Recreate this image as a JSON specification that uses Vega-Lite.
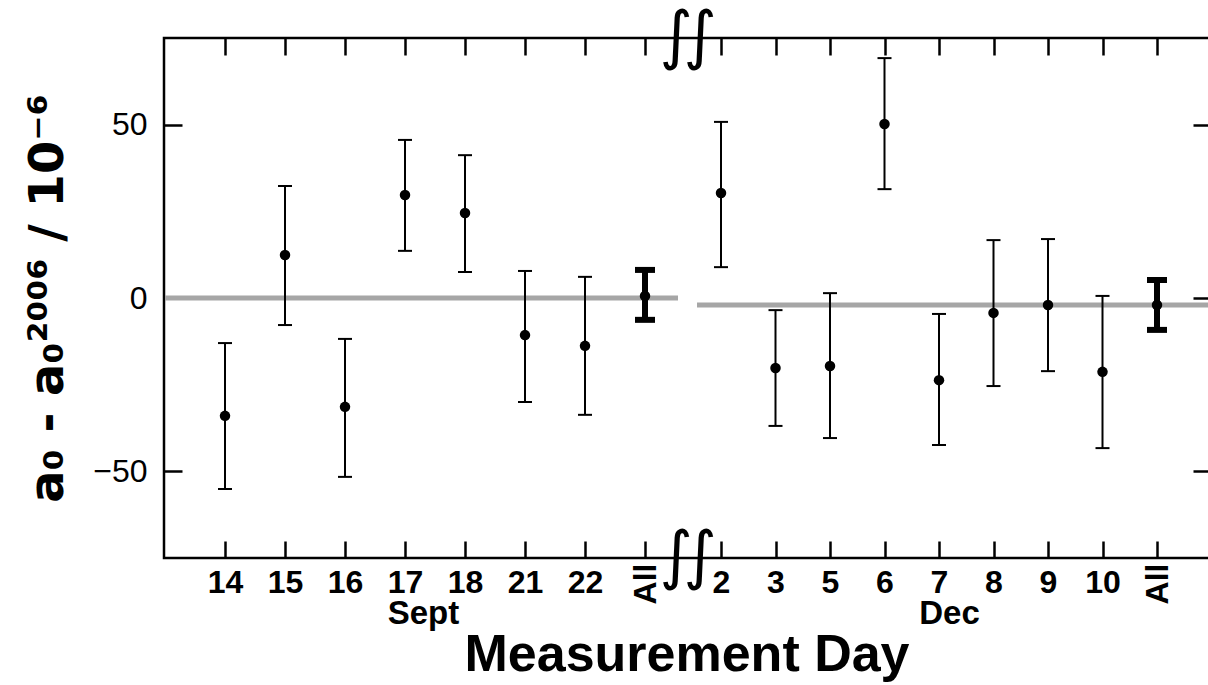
{
  "$schema": "https://vega.github.io/schema/vega-lite/v6.json",
  "width": 1046,
  "height": 520,
  "autosize": {"type": "none"},
  "padding": {"left": 164, "top": 38, "right": -2, "bottom": 127},
  "background": "white",
  "config": {
    "font": "Liberation Sans",
    "view": {"stroke": "black", "strokeWidth": 2.5},
    "axis": {"domain": false, "grid": false, "tickColor": "black", "labelColor": "black", "titleColor": "black", "tickWidth": 2.5}
  },
  "title": {"text": "Measurement Day", "orient": "bottom", "anchor": "middle", "frame": "group", "font": "Liberation Sans", "fontSize": 52, "fontWeight": "bold", "color": "black", "offset": 0},
  "datasets": {
    "sept": [
      {"slot": 1, "day": "14", "v": -34.0, "lo": -55.1, "hi": -13.0},
      {"slot": 2, "day": "15", "v": 12.4, "lo": -7.8, "hi": 32.3},
      {"slot": 3, "day": "16", "v": -31.4, "lo": -51.6, "hi": -11.8},
      {"slot": 4, "day": "17", "v": 29.7, "lo": 13.6, "hi": 45.6},
      {"slot": 5, "day": "18", "v": 24.5, "lo": 7.5, "hi": 41.2},
      {"slot": 6, "day": "21", "v": -10.7, "lo": -30.0, "hi": 7.8},
      {"slot": 7, "day": "22", "v": -13.8, "lo": -33.7, "hi": 6.1},
      {"slot": 8, "day": "All", "v": 0.6, "lo": -6.3, "hi": 8.1}
    ],
    "dec": [
      {"slot": 1, "day": "2", "v": 30.3, "lo": 8.9, "hi": 50.8},
      {"slot": 2, "day": "3", "v": -20.2, "lo": -36.9, "hi": -3.5},
      {"slot": 3, "day": "5", "v": -19.6, "lo": -40.4, "hi": 1.4},
      {"slot": 4, "day": "6", "v": 50.2, "lo": 31.4, "hi": 69.2},
      {"slot": 5, "day": "7", "v": -23.7, "lo": -42.4, "hi": -4.6},
      {"slot": 6, "day": "8", "v": -4.3, "lo": -25.4, "hi": 16.7},
      {"slot": 7, "day": "9", "v": -2.0, "lo": -21.1, "hi": 17.0},
      {"slot": 8, "day": "10", "v": -21.3, "lo": -43.3, "hi": 0.6},
      {"slot": 9, "day": "All", "v": -2.0, "lo": -9.2, "hi": 5.2}
    ],
    "means": [
      {"period": "Sept", "mean": 0},
      {"period": "Dec", "mean": -2}
    ],
    "breaks": [
      {"edge": 75},
      {"edge": -75}
    ]
  },
  "resolve": {"scale": {"x": "independent", "y": "independent"}, "axis": {"x": "independent", "y": "independent"}},
  "layer": [
    {
      "data": {"name": "means"},
      "transform": [{"filter": "datum.period == 'Sept'"}],
      "mark": {"type": "rule", "color": "#a6a6a6", "strokeWidth": 5},
      "encoding": {
        "x": {"datum": 0, "type": "quantitative", "scale": {"domain": [1, 8], "range": [61, 481], "nice": false, "zero": false}, "axis": null},
        "x2": {"datum": 8.55},
        "y": {"field": "mean", "type": "quantitative", "scale": {"domain": [-75, 75], "nice": false, "zero": false}, "axis": null}
      }
    },
    {
      "data": {"name": "means"},
      "transform": [{"filter": "datum.period == 'Dec'"}],
      "mark": {"type": "rule", "color": "#a6a6a6", "strokeWidth": 5},
      "encoding": {
        "x": {"datum": 0.56, "type": "quantitative", "scale": {"domain": [1, 9], "range": [557, 993], "nice": false, "zero": false}, "axis": null},
        "x2": {"datum": 9.97},
        "y": {"field": "mean", "type": "quantitative", "scale": {"domain": [-75, 75], "nice": false, "zero": false}, "axis": null}
      }
    },
    {
      "data": {"name": "sept"},
      "mark": {"type": "point", "opacity": 0},
      "encoding": {
        "x": {"field": "slot", "type": "quantitative", "scale": {"domain": [1, 8], "range": [61, 481], "nice": false, "zero": false}, "axis": null},
        "y": {"field": "v", "type": "quantitative", "scale": {"domain": [-75, 75], "nice": false, "zero": false},
          "axis": {"orient": "left", "values": [-50, 0, 50], "tickSize": -18, "labelFontSize": 32, "labelFontWeight": "normal", "labelPadding": 35,
            "title": "a₀ - a₀²⁰⁰⁶ / 10⁻⁶", "titleFont": "DejaVu Sans", "titleFontSize": 48, "titleFontWeight": "bold", "titlePadding": 20}}
      }
    },
    {
      "data": {"name": "sept"},
      "encoding": {
        "x": {"field": "slot", "type": "quantitative", "scale": {"domain": [1, 8], "range": [61, 481], "nice": false, "zero": false},
          "axis": {"orient": "bottom", "values": [1, 2, 3, 4, 5, 6, 7, 8],
            "labelExpr": "datum.value == 8 ? '' : ['14','15','16','17','18','21','22'][datum.value-1]",
            "tickSize": -17, "labelFontSize": 32, "labelFontWeight": "bold", "labelPadding": 26, "labelBaseline": "top",
            "labelFlush": false, "labelOverlap": false, "labelBound": false,
            "title": "Sept", "titleFontSize": 33, "titleFontWeight": "bold", "titleX": 259, "titleY": 65, "titleBaseline": "alphabetic", "titleAlign": "center"}
        }
      },
      "layer": [
        {
          "transform": [{"filter": "datum.day != 'All'"}],
          "mark": {"type": "rule", "color": "black", "strokeWidth": 2},
          "encoding": {
            "y": {"field": "lo", "type": "quantitative", "scale": {"domain": [-75, 75], "nice": false, "zero": false}, "axis": null},
            "y2": {"field": "hi"}
          }
        },
        {
          "transform": [{"filter": "datum.day != 'All'"}],
          "mark": {"type": "tick", "orient": "horizontal", "color": "black", "size": 14, "thickness": 2, "opacity": 1},
          "encoding": {"y": {"field": "lo", "type": "quantitative", "axis": null}}
        },
        {
          "transform": [{"filter": "datum.day != 'All'"}],
          "mark": {"type": "tick", "orient": "horizontal", "color": "black", "size": 14, "thickness": 2, "opacity": 1},
          "encoding": {"y": {"field": "hi", "type": "quantitative", "axis": null}}
        },
        {
          "transform": [{"filter": "datum.day == 'All'"}],
          "mark": {"type": "rule", "color": "black", "strokeWidth": 6},
          "encoding": {"y": {"field": "lo", "type": "quantitative", "axis": null}, "y2": {"field": "hi"}}
        },
        {
          "transform": [{"filter": "datum.day == 'All'"}],
          "mark": {"type": "tick", "orient": "horizontal", "color": "black", "size": 20, "thickness": 6, "opacity": 1},
          "encoding": {"y": {"field": "lo", "type": "quantitative", "axis": null}}
        },
        {
          "transform": [{"filter": "datum.day == 'All'"}],
          "mark": {"type": "tick", "orient": "horizontal", "color": "black", "size": 20, "thickness": 6, "opacity": 1},
          "encoding": {"y": {"field": "hi", "type": "quantitative", "axis": null}}
        },
        {
          "mark": {"type": "circle", "size": 110, "color": "black", "opacity": 1},
          "encoding": {"y": {"field": "v", "type": "quantitative", "axis": null}}
        }
      ]
    },
    {
      "data": {"name": "sept"},
      "mark": {"type": "point", "opacity": 0},
      "encoding": {
        "x": {"field": "slot", "type": "quantitative", "scale": {"domain": [1, 8], "range": [61, 481], "nice": false, "zero": false},
          "axis": {"orient": "top", "values": [1, 2, 3, 4, 5, 6, 7, 8], "tickSize": -17, "labels": false, "title": null}},
        "y": {"field": "v", "type": "quantitative", "scale": {"domain": [-75, 75], "nice": false, "zero": false},
          "axis": {"orient": "right", "values": [-50, 0, 50], "tickSize": -17, "labels": false, "title": null}}
      }
    },
    {
      "data": {"name": "sept"},
      "mark": {"type": "point", "opacity": 0},
      "encoding": {
        "x": {"field": "slot", "type": "quantitative", "scale": {"domain": [1, 8], "range": [61, 481], "nice": false, "zero": false},
          "axis": {"orient": "bottom", "values": [8], "labelExpr": "'All'", "ticks": false, "labelAngle": 270, "labelAlign": "right", "labelBaseline": "middle",
            "labelPadding": 5, "labelFontSize": 32, "labelFontWeight": "bold", "labelFlush": false, "labelBound": false, "title": null}},
        "y": {"field": "v", "type": "quantitative", "scale": {"domain": [-75, 75], "nice": false, "zero": false}, "axis": null}
      }
    },
    {
      "data": {"name": "dec"},
      "encoding": {
        "x": {"field": "slot", "type": "quantitative", "scale": {"domain": [1, 9], "range": [557, 993], "nice": false, "zero": false},
          "axis": {"orient": "bottom", "values": [1, 2, 3, 4, 5, 6, 7, 8, 9],
            "labelExpr": "datum.value == 9 ? '' : ['2','3','5','6','7','8','9','10'][datum.value-1]",
            "tickSize": -17, "labelFontSize": 32, "labelFontWeight": "bold", "labelPadding": 26, "labelBaseline": "top",
            "labelFlush": false, "labelOverlap": false, "labelBound": false,
            "title": "Dec", "titleFontSize": 33, "titleFontWeight": "bold", "titleX": 785, "titleY": 65, "titleBaseline": "alphabetic", "titleAlign": "center"}
        }
      },
      "layer": [
        {
          "transform": [{"filter": "datum.day != 'All'"}],
          "mark": {"type": "rule", "color": "black", "strokeWidth": 2},
          "encoding": {"y": {"field": "lo", "type": "quantitative", "scale": {"domain": [-75, 75], "nice": false, "zero": false}, "axis": null}, "y2": {"field": "hi"}}
        },
        {
          "transform": [{"filter": "datum.day != 'All'"}],
          "mark": {"type": "tick", "orient": "horizontal", "color": "black", "size": 14, "thickness": 2, "opacity": 1},
          "encoding": {"y": {"field": "lo", "type": "quantitative", "axis": null}}
        },
        {
          "transform": [{"filter": "datum.day != 'All'"}],
          "mark": {"type": "tick", "orient": "horizontal", "color": "black", "size": 14, "thickness": 2, "opacity": 1},
          "encoding": {"y": {"field": "hi", "type": "quantitative", "axis": null}}
        },
        {
          "transform": [{"filter": "datum.day == 'All'"}],
          "mark": {"type": "rule", "color": "black", "strokeWidth": 6},
          "encoding": {"y": {"field": "lo", "type": "quantitative", "axis": null}, "y2": {"field": "hi"}}
        },
        {
          "transform": [{"filter": "datum.day == 'All'"}],
          "mark": {"type": "tick", "orient": "horizontal", "color": "black", "size": 20, "thickness": 6, "opacity": 1},
          "encoding": {"y": {"field": "lo", "type": "quantitative", "axis": null}}
        },
        {
          "transform": [{"filter": "datum.day == 'All'"}],
          "mark": {"type": "tick", "orient": "horizontal", "color": "black", "size": 20, "thickness": 6, "opacity": 1},
          "encoding": {"y": {"field": "hi", "type": "quantitative", "axis": null}}
        },
        {
          "mark": {"type": "circle", "size": 110, "color": "black", "opacity": 1},
          "encoding": {"y": {"field": "v", "type": "quantitative", "axis": null}}
        }
      ]
    },
    {
      "data": {"name": "dec"},
      "mark": {"type": "point", "opacity": 0},
      "encoding": {
        "x": {"field": "slot", "type": "quantitative", "scale": {"domain": [1, 9], "range": [557, 993], "nice": false, "zero": false},
          "axis": {"orient": "top", "values": [1, 2, 3, 4, 5, 6, 7, 8, 9], "tickSize": -17, "labels": false, "title": null}},
        "y": {"field": "v", "type": "quantitative", "scale": {"domain": [-75, 75], "nice": false, "zero": false}, "axis": null}
      }
    },
    {
      "data": {"name": "dec"},
      "mark": {"type": "point", "opacity": 0},
      "encoding": {
        "x": {"field": "slot", "type": "quantitative", "scale": {"domain": [1, 9], "range": [557, 993], "nice": false, "zero": false},
          "axis": {"orient": "bottom", "values": [9], "labelExpr": "'All'", "ticks": false, "labelAngle": 270, "labelAlign": "right", "labelBaseline": "middle",
            "labelPadding": 5, "labelFontSize": 32, "labelFontWeight": "bold", "labelFlush": false, "labelBound": false, "title": null}},
        "y": {"field": "v", "type": "quantitative", "scale": {"domain": [-75, 75], "nice": false, "zero": false}, "axis": null}
      }
    },
    {
      "data": {"name": "breaks"},
      "encoding": {
        "y": {"field": "edge", "type": "quantitative", "scale": {"domain": [-75, 75], "nice": false, "zero": false}, "axis": null}
      },
      "layer": [
        {
          "mark": {"type": "text", "text": "∫", "font": "DejaVu Sans", "fontSize": 64, "color": "black", "baseline": "middle", "align": "center"},
          "encoding": {"x": {"datum": 8.52, "type": "quantitative", "scale": {"domain": [1, 8], "range": [61, 481], "nice": false, "zero": false}, "axis": null}}
        },
        {
          "mark": {"type": "text", "text": "∫", "font": "DejaVu Sans", "fontSize": 64, "color": "black", "baseline": "middle", "align": "center"},
          "encoding": {"x": {"datum": 8.92, "type": "quantitative", "scale": {"domain": [1, 8], "range": [61, 481], "nice": false, "zero": false}, "axis": null}}
        }
      ]
    }
  ]
}
